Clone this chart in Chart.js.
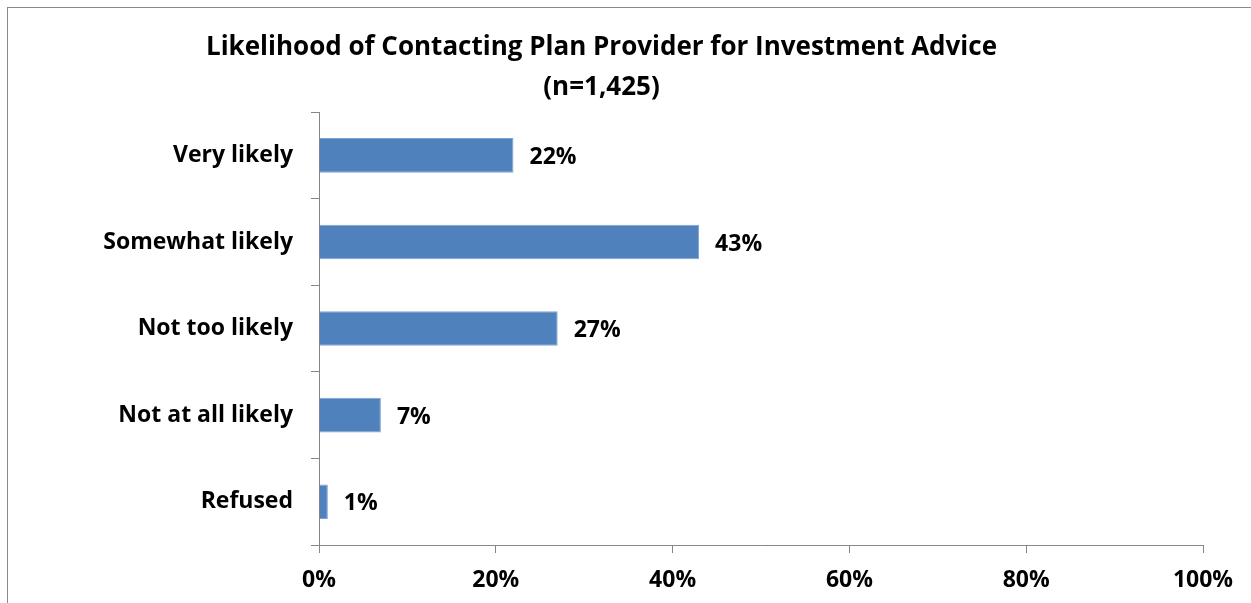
<!DOCTYPE html>
<html>
<head>
<meta charset="utf-8">
<script src="https://cdn.jsdelivr.net/npm/chart.js@4/dist/chart.umd.min.js"></script>
<style>
  body { margin: 0; background: #fff; overflow: hidden; }
  #frame { position: absolute; left: 7px; top: 7px; width: 1400px; height: 800px; border: 1px solid #8a8a8a; }
  #wrap { position: absolute; left: 0; top: 0; width: 1251px; height: 603px; }
</style>
</head>
<body>
<div id="frame"></div>
<div id="wrap"><canvas id="myChart"></canvas></div>
<script>
const categories = ['Very likely', 'Somewhat likely', 'Not too likely', 'Not at all likely', 'Refused'];
const shares = [22, 43, 27, 7, 1];
const xTicks = [0, 20, 40, 60, 80, 100];

const fontName = '"Open Sans"';

// prints the value at the end of each bar
const barLabels = {
    id: 'barLabels',
    afterDatasetsDraw(chart){
        const ctx = chart.ctx;
        const meta = chart.getDatasetMeta(0);
        ctx.save();
        ctx.font = 'bold 23px ' + fontName;
        ctx.fillStyle = '#000';
        ctx.textBaseline = 'middle';
        ctx.textAlign = 'left';
        meta.data.forEach((bar, i) => {
            ctx.fillText(shares[i] + '%', bar.x + 16, bar.y + 2);
        });
        ctx.restore();
    }
};

function chart(){
    const ctx = document.getElementById('myChart').getContext('2d');

    const data = {
        labels: categories,
        datasets: [{
            data: shares,
            backgroundColor: '#4F81BD',
            borderColor: '#7FA3D1',
            borderWidth: 1,
            barPercentage: 0.4,
            categoryPercentage: 1
        }]
    };

    const config = {
        type: 'bar',
        data: data,
        options: {
            indexAxis: 'y',
            responsive: true,
            maintainAspectRatio: false,
            animation: false,
            layout: { padding: { left: 0, right: 48, top: 0, bottom: 0 } },
            plugins: {
                legend: { display: false },
                tooltip: { enabled: false },
                title: {
                    display: true,
                    text: ['Likelihood of Contacting Plan Provider for Investment Advice', '(n=1,425)'],
                    color: '#000',
                    font: { family: fontName, size: 26, weight: 'bold', lineHeight: 1.54 },
                    padding: { top: 28, bottom: 4 }
                }
            },
            scales: {
                x: {
                    min: 0,
                    max: 100,
                    afterBuildTicks(scale){
                        scale.ticks = xTicks.map(v => ({ value: v }));
                    },
                    afterFit(scale){ scale.height = 58; },
                    grid: { drawOnChartArea: false, color: '#868686', tickLength: 8, tickColor: '#868686' },
                    border: { color: '#868686', width: 1 },
                    ticks: {
                        color: '#000',
                        padding: 14,
                        font: { family: fontName, size: 23, weight: 'bold' },
                        callback: v => v + '%'
                    }
                },
                y: {
                    afterFit(scale){ scale.width = 319; },
                    grid: { drawOnChartArea: false, offset: true, color: '#868686', tickLength: 8, tickColor: '#868686' },
                    border: { color: '#868686', width: 1 },
                    ticks: {
                        color: '#000',
                        padding: 18,
                        font: { family: fontName, size: 23, weight: 'bold' }
                    }
                }
            }
        },
        plugins: [barLabels]
    };

    return new Chart(ctx, config);
}

chart();
</script>
</body>
</html>
